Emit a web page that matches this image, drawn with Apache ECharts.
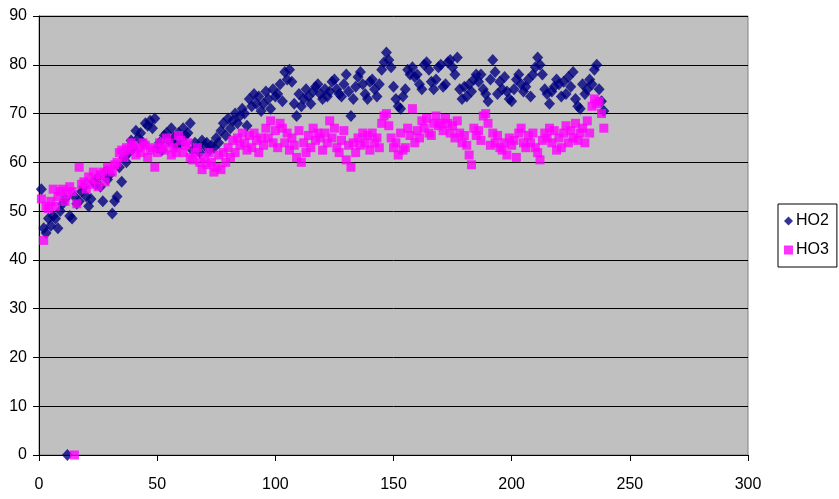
<!DOCTYPE html>
<html><head><meta charset="utf-8">
<script src="https://cdn.jsdelivr.net/npm/echarts@6/dist/echarts.min.js"></script>
<style>html,body{margin:0;padding:0;background:#fff}#c{width:839px;height:499px}</style>
</head><body><div id="c"></div>
<script>
var seriesNames = ["HO2", "HO3"];
var xTicks = [0, 50, 100, 150, 200, 250, 300];
var yTicks = [0, 10, 20, 30, 40, 50, 60, 70, 80, 90];
var ho2 = [
54.5,46.5,45.5,48.5,47,49,48.5,46.5,50,51.5,
52.5,0,49,48.5,53,51.5,52,54,55,53,
51,52.5,56,55.5,57,55,52,58,56.5,57.5,
49.5,52,53,59,56,61,60,62,64.5,63,
66.5,65,66,64,68,67.5,68.5,67,69,63,
64,62.5,65.5,66,64.5,67,65,63.5,66,64,
67,65.5,66,68,62.5,64,63,62,64.5,63.5,
64,62.5,63.5,63,65,64,66.5,68,65.5,69,
67,68.5,70,68,69.5,71,70,67.5,73,71.5,
74,72,73.5,70.5,72,74.5,73,71,75,73.5,
74,76,72.5,78.5,77,79,76.5,72,69.5,74,
71.5,73,75,73.5,72,74.5,75.5,76,74,73,
75,73.5,74.5,76.5,77,75,74,73.5,76,78,
74.5,69.5,73,75.5,77.5,78.5,76,74,73,76.5,
77,75,73.5,76,79,80.5,82.5,81,79.5,75.5,
73,71.5,71,73.5,75,79,78,79.5,77.5,78,
76,75,80,80.5,79,76.5,75,77,79.5,80,
75.5,76,80.5,81,79.5,78,81.5,75,73,75.5,
73.5,76,74.5,77,78,76.5,78,75,74,72.5,
77,81,78.5,74,76.5,75,77.5,74.5,73,72.5,
75,77,78,76,74.5,75.5,77,73.5,78,79.5,
81.5,80,78,75,74,72,74.5,75.5,77,76,
73.5,76.5,74,77.5,75.5,78.5,73,71.5,71,76,
74,75,77,76,79,80,75,72.5,70.5
];
var ho3 = [
52.5,44,51,50.5,52,54.5,51,53,54,54.5,
52,53.5,55,54,0,51.5,59,55.5,56,54.5,
57,55.5,58,56.5,55,57.5,58,56,59,58.5,
58,59.5,60,62,62.5,61,63,62.5,64,63.5,
61.5,63,62,64,63.5,61,62.5,63,59,62,
64,63,62.5,65,64,61.5,63,62,65.5,64.5,
62,63.5,64,61,60.5,62,63,60,58.5,61,
59.5,62,60,58,59,61.5,58.5,62,60,63,
61,64.5,62,65,63.5,66,64,62.5,65.5,63,
66,64.5,62,65,63.5,67,65,68.5,64,66.5,
63,68,67,64,66,62.5,65,63.5,61,66.5,
60,64,62,65.5,63,67,64.5,66,65,62.5,
66,64,68.5,65,67,63,62,64.5,66.5,60.5,
63.5,59,64,62,65,63.5,66,64,65.5,62.5,
66,64,65,63,68,69.5,70,67.5,65,63,
64,61.5,66,62.5,63,67,65.5,71,64,66.5,
65,68.5,67,69,66,65.5,68,69.5,67.5,68,
66.5,69,68,66,67.5,65,68.5,66,64,65.5,
63.5,61.5,59.5,67,65.5,66.5,64.5,69.5,70,68,
63.5,66,64,65.5,63,62.5,64,61.5,65,63.5,
64.5,61,66,67,64,63,65.5,64,66,63,
62,60.5,64.5,66,65,67,64,66.5,62.5,65,
63,66,67.5,64,66.5,65,68,64.5,66,67,
64,68.5,66,71.5,73,72,72.5,70,67
];
function pts(arr){ return arr.map(function(v,i){ return [i+1, v]; }); }
var font = "'Liberation Sans', Arial, sans-serif";
var chart = echarts.init(document.getElementById('c'), null, {renderer:'canvas'});
chart.setOption({
  animation:false,
  backgroundColor:'#ffffff',
  textStyle:{fontFamily:font},
  grid:{left:39,right:91,top:16,bottom:44,show:true,backgroundColor:'#c0c0c0',borderColor:'#808080',borderWidth:1},
  legend:{
    orient:'vertical', left:778, top:204,
    padding:[9,8,9,6], itemGap:13,
    borderColor:'#000', borderWidth:1, backgroundColor:'#fff',
    itemWidth:9, itemHeight:9,
    textStyle:{fontFamily:font,fontSize:16,color:'#000',padding:[0,0,0,-2]},
    data:[{name:seriesNames[0],icon:'diamond'},{name:seriesNames[1],icon:'rect'}]
  },
  xAxis:{
    type:'value', min:xTicks[0], max:xTicks[xTicks.length-1], interval:50,
    axisLine:{show:true,onZero:false,lineStyle:{color:'#000',width:1}},
    axisTick:{show:true,length:6,lineStyle:{color:'#000'}},
    splitLine:{show:false},
    axisLabel:{margin:22,fontSize:16,color:'#000',fontFamily:font}
  },
  yAxis:{
    type:'value', min:yTicks[0], max:yTicks[yTicks.length-1], interval:10,
    axisLine:{show:true,lineStyle:{color:'#000',width:1}},
    axisTick:{show:true,length:6,lineStyle:{color:'#000'}},
    splitLine:{show:true,lineStyle:{color:'#000',width:1}},
    axisLabel:{margin:12,fontSize:16,color:'#000',fontFamily:font}
  },
  series:[
    {name:seriesNames[0],type:'scatter',symbol:'diamond',symbolSize:[11,12],
     itemStyle:{color:'#000080'},data:pts(ho2)},
    {name:seriesNames[1],type:'scatter',symbol:'rect',symbolSize:9,
     itemStyle:{color:'#ff00ff'},data:pts(ho3)}
  ]
});
</script></body></html>
